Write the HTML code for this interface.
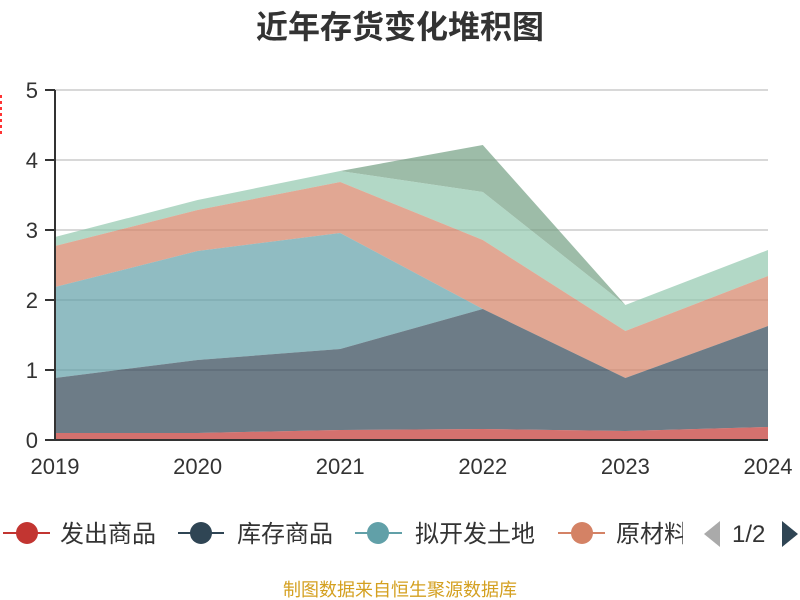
<!DOCTYPE html>
<html><head><meta charset="utf-8"><style>
body{margin:0;background:#fff;}
svg{display:block;font-family:"Liberation Sans","Noto Sans CJK SC",sans-serif;}
</style></head><body>
<svg width="800" height="600" viewBox="0 0 800 600">
<text x="400" y="38" text-anchor="middle" font-size="32" font-weight="bold" fill="#333">近年存货变化堆积图</text>
<line x1="1" y1="95" x2="1" y2="135" stroke="#f33" stroke-width="2" stroke-dasharray="3,3"/>
<g stroke="#ccc" stroke-width="1.5">
<line x1="55" y1="90" x2="768" y2="90"/><line x1="55" y1="160" x2="768" y2="160"/>
<line x1="55" y1="230" x2="768" y2="230"/><line x1="55" y1="300" x2="768" y2="300"/>
<line x1="55" y1="370" x2="768" y2="370"/>
</g>
<g fill-opacity="0.7">
<polygon fill="#749f83" points="55,237 197.6,200 340.2,171 482.8,145 625.4,305 768,250 768,250 625.4,305 482.8,192 340.2,171 197.6,200 55,237"/>
<polygon fill="#91c7ae" points="55,237 197.6,200 340.2,171 482.8,192 625.4,305 768,250 768,276 625.4,331 482.8,240 340.2,182 197.6,210 55,246"/>
<polygon fill="#d48265" points="55,246 197.6,210 340.2,182 482.8,240 625.4,331 768,276 768,326 625.4,378 482.8,309 340.2,233 197.6,251 55,287"/>
<polygon fill="#61a0a8" points="55,287 197.6,251 340.2,233 482.8,309 482.8,309 340.2,349 197.6,360 55,378"/>
<polygon fill="#2f4554" points="55,378 197.6,360 340.2,349 482.8,309 625.4,378 768,326 768,427 625.4,431 482.8,429 340.2,430 197.6,433 55,433"/>
<polygon fill="#c23531" points="55,433 197.6,433 340.2,430 482.8,429 625.4,431 768,427 768,440 55,440"/>
</g>
<g stroke="#333" stroke-width="2">
<line x1="55" y1="90" x2="55" y2="441"/><line x1="54" y1="440" x2="768" y2="440"/>
<line x1="45" y1="90" x2="55" y2="90"/><line x1="45" y1="160" x2="55" y2="160"/><line x1="45" y1="230" x2="55" y2="230"/><line x1="45" y1="300" x2="55" y2="300"/><line x1="45" y1="370" x2="55" y2="370"/><line x1="45" y1="440" x2="55" y2="440"/>
</g>
<g font-size="22" fill="#333" text-anchor="end">
<text x="38" y="98">5</text><text x="38" y="168">4</text><text x="38" y="238">3</text><text x="38" y="308">2</text><text x="38" y="378">1</text><text x="38" y="448">0</text>
</g>
<g font-size="22" fill="#333" text-anchor="middle">
<text x="55" y="474">2019</text><text x="197.6" y="474">2020</text><text x="340.2" y="474">2021</text><text x="482.8" y="474">2022</text><text x="625.4" y="474">2023</text><text x="768" y="474">2024</text>
</g>
<g font-size="24" fill="#333">
<line x1="3" y1="533" x2="50" y2="533" stroke="#c23531" stroke-width="2"/><circle cx="27" cy="533" r="11" fill="#c23531"/>
<text x="60" y="542">发出商品</text>
<line x1="178" y1="533" x2="224" y2="533" stroke="#2f4554" stroke-width="2"/><circle cx="201" cy="533" r="11" fill="#2f4554"/>
<text x="237" y="542">库存商品</text>
<line x1="355" y1="533" x2="402" y2="533" stroke="#61a0a8" stroke-width="2"/><circle cx="378" cy="533" r="11" fill="#61a0a8"/>
<text x="415" y="542">拟开发土地</text>
<line x1="558" y1="533" x2="605" y2="533" stroke="#d48265" stroke-width="2"/><circle cx="582" cy="533" r="11" fill="#d48265"/>
<text x="616" y="542">原材料</text>
<rect x="683" y="513" width="22" height="38" fill="#fff"/>
<polygon points="720,521 720,547 704,534" fill="#aaa"/>
<text x="732" y="542">1/2</text>
<polygon points="782,521 782,547 798,534" fill="#2f4554"/>
</g>
<text x="400" y="596" text-anchor="middle" font-size="18" fill="#d4a020">制图数据来自恒生聚源数据库</text>
</svg>
</body></html>
